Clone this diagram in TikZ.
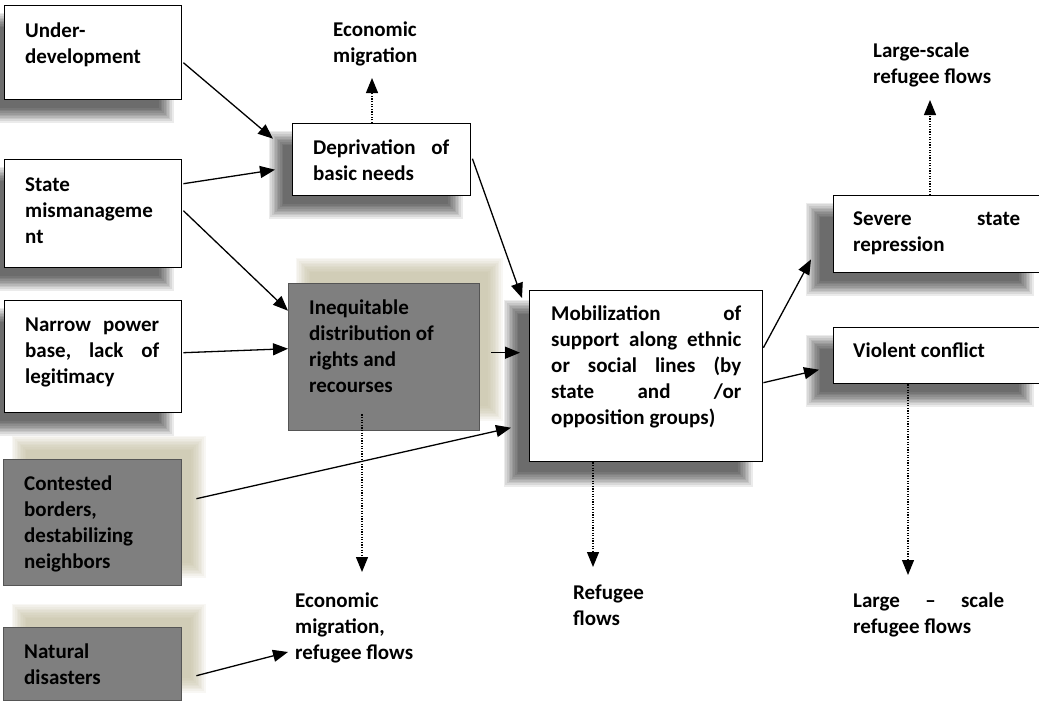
\documentclass[tikz,border=0pt]{standalone}
\usepackage{fontspec}
\setmainfont{Carlito}
\usetikzlibrary{calc,arrows.meta,backgrounds}
\definecolor{boxgray}{RGB}{127,127,127}
\definecolor{boxedge}{RGB}{85,85,85}
\definecolor{beigeshade}{RGB}{190,184,150}

% soft rectangular shadow behind a node: #1 node, #2/#3 offset, #4 fill options
\newcommand\softshade[4]{%
  \foreach \k in {0,...,9}{%
    \pgfmathsetmacro\shr{(\k-4.5)*1.6}%
    \fill[#4] ($(#1.north west)+(#2+\shr,#3+\shr)$) rectangle ($(#1.south east)+(#2-\shr,#3-\shr)$);
  }}

\begin{document}
\begin{tikzpicture}[x=1pt,y=-1pt,
  wbox/.style={draw=black, line width=1.4pt, fill=white, anchor=north west, inner sep=0pt, rectangle},
  gbox/.style={draw=boxedge, line width=1.4pt, fill=boxgray, anchor=north west, inner sep=0pt, rectangle},
  txt/.style={inner sep=0pt, anchor=base west, font=\fontsize{21}{26}\selectfont\bfseries},
  link/.style={line width=1.3pt, -{Triangle[length=15pt,width=12pt]}},
  flow/.style={line width=1.2pt, dash pattern=on 1.2pt off 1.4pt, -{Triangle[length=15pt,width=12pt]}},
  grayshade/.style={black, opacity=0.08},
  beigeshadow/.style={beigeshade, opacity=0.1}
]
\useasboundingbox (0,0) rectangle (1039,702);

% boxes
\node[wbox, minimum width=177pt, minimum height=94pt]  (under)  at (4,5) {};
\node[wbox, minimum width=177pt, minimum height=108pt] (state)  at (4,159) {};
\node[wbox, minimum width=177pt, minimum height=112pt] (narrow) at (4,300) {};
\node[gbox, minimum width=178pt, minimum height=126pt] (cont)   at (3,459) {};
\node[gbox, minimum width=178pt, minimum height=73pt]  (nat)    at (3,627) {};
\node[wbox, minimum width=178pt, minimum height=72pt]  (depr)   at (292,123) {};
\node[gbox, minimum width=191pt, minimum height=147pt] (ineq)   at (288,283) {};
\node[wbox, minimum width=233pt, minimum height=171pt] (mob)    at (529,290) {};
\node[wbox, minimum width=212pt, minimum height=77pt]  (sev)    at (833,195) {};
\node[wbox, minimum width=212pt, minimum height=56pt]  (viol)   at (833,327) {};

% box texts
\node[txt] (tUnder)  at (25,37)   {\parbox[t]{150pt}{Under-\\development}};
\node[txt] (tState)  at (25,191)  {\parbox[t]{150pt}{State\\mismanageme\\nt}};
\node[txt] (tNarrow) at (25,331)  {\parbox[t]{134pt}{Narrow\hfill power\\base,\hfill lack\hfill of\\legitimacy}};
\node[txt] (tCont)   at (24,490)  {\parbox[t]{150pt}{Contested\\borders,\\destabilizing\\neighbors}};
\node[txt] (tNat)    at (24,658)  {\parbox[t]{150pt}{Natural\\disasters}};
\node[txt] (tDepr)   at (313,154) {\parbox[t]{136pt}{Deprivation\hfill of\\basic needs}};
\node[txt] (tIneq)   at (309,314) {\parbox[t]{160pt}{Inequitable\\distribution of\\rights and\\recourses}};
\node[txt] (tMob)    at (551,320) {\parbox[t]{190pt}{Mobilization\hfill of\\support\hfill along\hfill ethnic\\or\hfill social\hfill lines\hfill (by\\state\hfill and\hfill /or\\opposition groups)}};
\node[txt] (tSev)    at (853,225) {\parbox[t]{167pt}{Severe\hfill state\\repression}};
\node[txt] (tViol)   at (853,357) {\parbox[t]{167pt}{Violent conflict}};

% outcome labels
\node[txt] (econ1)   at (333,36)  {\parbox[t]{150pt}{Economic\\migration}};
\node[txt] (large1)  at (873,57)  {\parbox[t]{160pt}{Large-scale\\refugee flows}};
\node[txt] (econ2)   at (295,607) {\parbox[t]{160pt}{Economic\\migration,\\refugee flows}};
\node[txt] (refugee) at (573,599) {\parbox[t]{120pt}{Refugee\\flows}};
\node[txt] (large2)  at (853,607) {\parbox[t]{151pt}{Large\hfill –\hfill scale\\refugee flows}};

% causal links
\draw[link] ($(under.east)+(1,10)$)   -- ($(depr.west)+(-19,-21)$);
\draw[link] ($(state.east)+(1,-30)$)  -- ($(depr.west)+(-17,10)$);
\draw[link] ($(state.east)+(1,-3)$)   -- ($(ineq.west)+(0,-46.5)$);
\draw[link] ($(narrow.east)+(1,-4)$)  -- ($(ineq.west)+(0,-8.5)$);
\draw[link] ($(ineq.east)+(11,-4.5)$) -- ($(mob.west)+(-9,-23.5)$);
\draw[link] ($(depr.east)+(1,-1)$)    -- ($(mob.north west)+(-7,8)$);
\draw[link] ($(cont.east)+(14,-24)$)  -- ($(mob.west)+(-18,51.5)$);
\draw[link] ($(nat.east)+(14,11.5)$)  -- ($(econ2.base west)+(-7,45)$);
\draw[link] ($(mob.east)+(0,-28.5)$)  -- ($(sev.south west)+(-22,-14)$);
\draw[link] ($(mob.east)+(0,6.5)$)    -- ($(viol.west)+(-14,14)$);

% migration flows
\draw[flow] ($(depr.north west)+(80,0)$)  -- ($(econ1.base west)+(39,42)$);
\draw[flow] ($(sev.north west)+(97,0)$)   -- ($(large1.base west)+(57,43)$);
\draw[flow] ($(ineq.south west)+(74,-17)$) -- ($(econ2.base west)+(67,-35)$);
\draw[flow] ($(mob.south west)+(64,0)$)   -- ($(refugee.base west)+(20,-32)$);
\draw[flow] ($(viol.south west)+(75,0)$)  -- ($(large2.base west)+(55,-32)$);

% page and shadows
\begin{pgfonlayer}{background}
  \fill[white] (0,0) rectangle (1039,702);
  \softshade{cont}{16}{-16}{beigeshadow}
  \softshade{nat}{16}{-16}{beigeshadow}
  \softshade{ineq}{15}{-18}{beigeshadow}
  \softshade{under}{-16}{15}{grayshade}
  \softshade{state}{-16}{15}{grayshade}
  \softshade{narrow}{-16}{15}{grayshade}
  \softshade{depr}{-16}{15}{grayshade}
  \softshade{mob}{-18}{17}{grayshade}
  \softshade{sev}{-20}{15}{grayshade}
  \softshade{viol}{-20}{15}{grayshade}
\end{pgfonlayer}
\end{tikzpicture}
\end{document}
